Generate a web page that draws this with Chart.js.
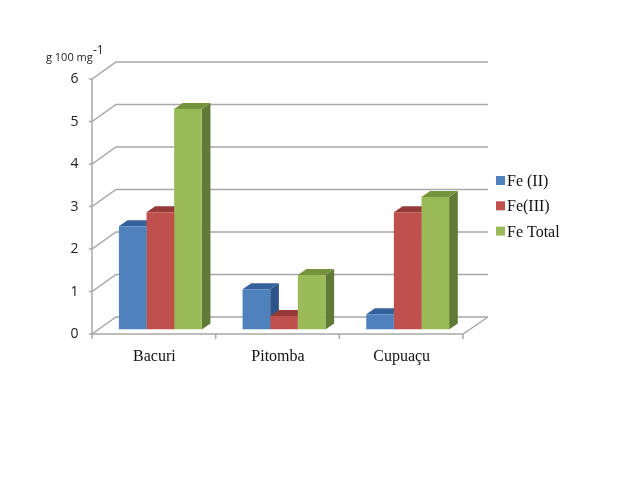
<!DOCTYPE html>
<html>
<head>
<meta charset="utf-8">
<style>
  html, body { margin: 0; background: #fff; }
</style>
<script src="https://cdn.jsdelivr.net/npm/chart.js@4"></script>
</head>
<body>
<canvas id="myChart" width="637" height="480"></canvas>
<script>
const categories = ["Bacuri", "Pitomba", "Cupuaçu"];
const feII = [2.43, 0.95, 0.36];
const feIII = [2.76, 0.32, 2.76];
const feTotal = [5.19, 1.28, 3.12];
const seriesNames = ["Fe (II)", "Fe(III)", "Fe Total"];
const frontColors = ["#4f81bd", "#c0504d", "#9bbb59"];
const topColors = ["#35619a", "#963a38", "#76923c"];
const sideColors = ["#2c5488", "#7f302e", "#617a35"];

const gridColor = "#a8a8a8";

// fake 3D box: walls, floor and the bar extrusions, all hung off the scales
const box3d = {
  id: "box3d",
  beforeDatasetsDraw(chart) {
    const ctx = chart.ctx;
    const x = chart.scales.x;
    const y = chart.scales.y;
    const front = { x: x.left - 6.5, dy: 4.5 };
    const back = { x: x.left + 17.5, dy: -12.5 };
    const right = x.right - 6.5;

    ctx.save();
    ctx.strokeStyle = gridColor;
    ctx.lineWidth = 1.5;
    ctx.beginPath();
    y.ticks.forEach((t) => {
      const py = y.getPixelForValue(t.value);
      ctx.moveTo(front.x - 3, py + front.dy);
      ctx.lineTo(front.x, py + front.dy);
      ctx.lineTo(back.x, py + back.dy);
      ctx.lineTo(right + 25, py + back.dy);
    });
    // left wall and floor front edge
    const zero = y.getPixelForValue(0);
    ctx.moveTo(front.x, y.getPixelForValue(6) + front.dy);
    ctx.lineTo(front.x, zero + front.dy);
    ctx.lineTo(right, zero + front.dy);
    ctx.lineTo(right + 25, zero + back.dy);
    for (let i = 0; i <= categories.length; i++) {
      const px = front.x + (i * x.width) / categories.length;
      ctx.moveTo(px, zero + front.dy);
      ctx.lineTo(px, zero + front.dy + 5);
    }
    ctx.stroke();

    // extrusions, the library paints the front faces on top
    const dx = 8.7;
    const dy = 6;
    chart.data.datasets.forEach((ds, i) => {
      chart.getDatasetMeta(i).data.forEach((bar) => {
        const l = bar.x - bar.width / 2;
        const r = bar.x + bar.width / 2;
        ctx.fillStyle = sideColors[i];
        ctx.beginPath();
        ctx.moveTo(r, bar.y);
        ctx.lineTo(r + dx, bar.y - dy);
        ctx.lineTo(r + dx, bar.base - dy);
        ctx.lineTo(r, bar.base);
        ctx.closePath();
        ctx.fill();
        ctx.fillStyle = topColors[i];
        ctx.beginPath();
        ctx.moveTo(l, bar.y);
        ctx.lineTo(l + dx, bar.y - dy);
        ctx.lineTo(r + dx, bar.y - dy);
        ctx.lineTo(r, bar.y);
        ctx.closePath();
        ctx.fill();
      });
    });
    ctx.restore();
  },
  afterDraw(chart) {
    const ctx = chart.ctx;
    ctx.save();
    ctx.fillStyle = "#222";
    ctx.textBaseline = "alphabetic";
    ctx.font = '11px "Open Sans"';
    ctx.fillText("g 100 mg", 46, 61);
    ctx.font = '12px "Open Sans"';
    ctx.fillText("-1", 93, 54);

    // legend sits tight to its swatches, closer than the built-in one allows
    ctx.font = '16px "Liberation Serif"';
    seriesNames.forEach((name, i) => {
      const rowY = 176 + i * 25.3;
      ctx.fillStyle = frontColors[i];
      ctx.fillRect(496, rowY, 9, 9);
      ctx.fillStyle = "#111";
      ctx.fillText(name, 507, rowY + 10);
    });
    ctx.restore();
  },
};

new Chart("myChart", {
  type: "bar",
  plugins: [box3d],
  data: {
    labels: categories,
    datasets: [
      { label: seriesNames[0], data: feII, backgroundColor: frontColors[0] },
      { label: seriesNames[1], data: feIII, backgroundColor: frontColors[1] },
      { label: seriesNames[2], data: feTotal, backgroundColor: frontColors[2] },
    ],
  },
  options: {
    responsive: false,
    animation: false,
    layout: { padding: { top: 74.5, right: 167.5, bottom: 0, left: 0 } },
    datasets: { bar: { categoryPercentage: 0.67, barPercentage: 1 } },
    plugins: {
      tooltip: { enabled: false },
      legend: { display: false },
    },
    scales: {
      x: {
        grid: { display: false },
        border: { display: false },
        afterFit: (s) => { s.height = 150.5; },
        ticks: {
          labelOffset: -6,
          padding: 10,
          color: "#111",
          font: { family: "Liberation Serif", size: 16 },
        },
      },
      y: {
        min: 0,
        max: 6,
        grid: { display: false },
        border: { display: false },
        afterFit: (s) => { s.width = 98.5; },
        ticks: {
          stepSize: 1,
          labelOffset: 5,
          padding: 20,
          color: "#222",
          font: { family: "Open Sans", size: 14 },
          padding: 12,
        },
      },
    },
  },
});
</script>
</body>
</html>
